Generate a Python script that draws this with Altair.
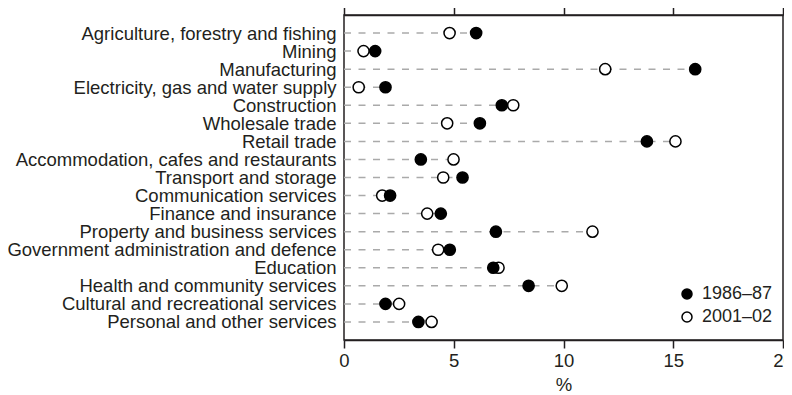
import altair as alt
import pandas as pd

categories = [
    "Agriculture, forestry and fishing",
    "Mining",
    "Manufacturing",
    "Electricity, gas and water supply",
    "Construction",
    "Wholesale trade",
    "Retail trade",
    "Accommodation, cafes and restaurants",
    "Transport and storage",
    "Communication services",
    "Finance and insurance",
    "Property and business services",
    "Government administration and defence",
    "Education",
    "Health and community services",
    "Cultural and recreational services",
    "Personal and other services",
]
v1986 = [6.02, 1.42, 16.0, 1.89, 7.19, 6.19, 13.8, 3.50, 5.40, 2.10, 4.41, 6.92, 4.82, 6.80, 8.41, 1.89, 3.39]
v2001 = [4.81, 0.89, 11.9, 0.67, 7.71, 4.70, 15.1, 4.99, 4.52, 1.74, 3.79, 11.32, 4.29, 7.04, 9.92, 2.51, 3.99]
series = ["1986–87", "2001–02"]
x_ticks = [0, 5, 10, 15, 20]

FONT = "Liberation Sans"
TXT = "#231f20"

rows = []
for c, a in zip(categories, v2001):
    rows.append({"cat": c, "series": series[1], "v": a})
for c, a in zip(categories, v1986):
    rows.append({"cat": c, "series": series[0], "v": a})
pts = pd.DataFrame(rows)
rules = pd.DataFrame({"cat": categories, "lo": [0] * len(categories),
                      "hi": [max(a, b) for a, b in zip(v1986, v2001)]})

xscale = alt.Scale(domain=[0, 20], nice=False, zero=True)
yscale = alt.Scale(type="point", domain=categories, padding=1)

yaxis = alt.Axis(title=None, domain=False, ticks=False, labelPadding=8,
                 labelFont=FONT, labelFontSize=18.5, labelColor=TXT, labelLimit=500)

rule = alt.Chart(rules).mark_rule(color="#aaaaaa", strokeWidth=1.5, strokeDash=[7, 7.5]).encode(
    x=alt.X("lo:Q", scale=xscale,
            axis=alt.Axis(orient="top", values=x_ticks, labels=False, title=None, grid=False,
                          tickSize=8, tickColor=TXT, tickWidth=1.5, domainColor=TXT, domainWidth=1.5)),
    x2="hi:Q",
    y=alt.Y("cat:N", scale=yscale, axis=yaxis),
)

points = alt.Chart(pts).mark_point(shape="circle", filled=True, size=125, stroke="black",
                                   strokeWidth=1.5, opacity=1).encode(
    x=alt.X("v:Q", scale=xscale,
            axis=alt.Axis(orient="bottom", values=x_ticks, title="%", grid=False,
                          tickSize=8, tickColor=TXT, tickWidth=1.5, domainColor=TXT, domainWidth=1.5,
                          labelFlush=False, labelBound=False,
                          labelFont=FONT, labelFontSize=18.5, labelColor=TXT, labelPadding=3,
                          titleFont=FONT, titleFontSize=18.5, titleFontWeight="normal",
                          titleColor=TXT, titlePadding=6)),
    y=alt.Y("cat:N", scale=yscale, axis=yaxis),
    fill=alt.Fill("series:N", scale=alt.Scale(domain=series, range=["black", "white"]),
                  legend=alt.Legend(title=None, orient="none", legendX=334, legendY=270,
                                    symbolType="circle", symbolSize=100, symbolStrokeColor="black",
                                    symbolStrokeWidth=1.5, labelFont=FONT, labelFontSize=18,
                                    labelColor=TXT, labelOffset=6, rowPadding=5, padding=0)),
)

chart = alt.layer(rule, points).resolve_axis(x="independent").properties(
    width=439, height=325,
    autosize=alt.AutoSizeParams(type="none"),
    padding={"left": 336, "top": 7, "right": 1, "bottom": 55},
).configure_view(stroke=TXT, strokeWidth=1.5)

chart.save("out.html", embed_options={"renderer": "svg", "actions": False})
